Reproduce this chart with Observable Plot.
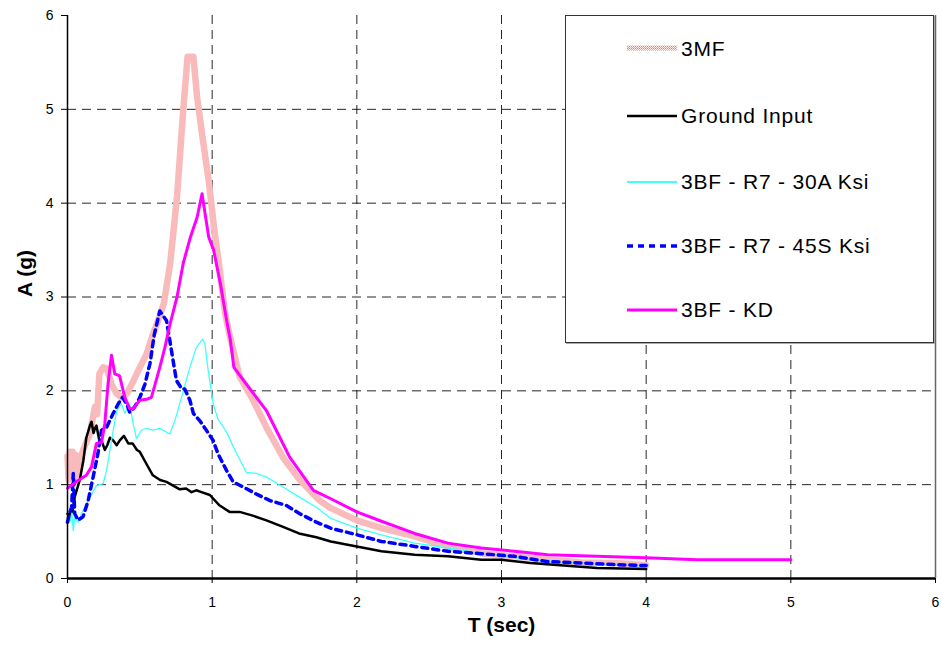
<!DOCTYPE html>
<html><head><meta charset="utf-8">
<script src="https://cdn.jsdelivr.net/npm/d3@7"></script>
<script src="https://cdn.jsdelivr.net/npm/@observablehq/plot@0.6"></script>
<style>
body{margin:0;background:#fff;font-family:"Liberation Sans",Arial,sans-serif;}
#wrap{position:relative;width:942px;height:645px;}
#legend{position:absolute;left:565px;top:15px;width:369px;height:328px;box-sizing:border-box;border:1.5px solid #333;background:#fff;box-shadow:1px 1px 0 #aaa;}
.item{position:absolute;left:61px;height:30px;display:flex;align-items:center;font-size:21px;letter-spacing:0.8px;color:#000;white-space:nowrap;}
.item svg{margin-right:4px;}
</style>
</head><body>
<div id="wrap"><div id="legend"></div></div>
<script>
// ---- data ----
const seriesNames = ["3MF", "Ground Input", "3BF - R7 - 30A Ksi", "3BF - R7 - 45S Ksi", "3BF - KD"];
const xTicks = [0, 1, 2, 3, 4, 5, 6];
const yTicks = [0, 1, 2, 3, 4, 5, 6];
const gridVals = [1, 2, 3, 4, 5];

const mf3T = [0,0.008,0.016,0.025,0.035,0.045,0.055,0.065,0.085,0.108,0.154,0.19,0.205,0.22,0.246,0.27,0.29,0.304,0.34,0.373,0.41,0.454,0.5,0.546,0.59,0.62,0.666,0.71,0.757,0.8,0.83,0.87,0.896,0.93,0.976,1.01,1.046,1.09,1.12,1.19,1.283,1.375,1.49,1.606,1.744,1.82,2.0,2.17,2.4,2.63,2.86,3.09,3.32,3.55,3.78,4.0];
const mf3A = [1.3,1.05,1.35,1.08,1.35,1.05,1.32,1.1,1.25,1.37,1.54,1.83,1.75,2.18,2.25,2.24,2.15,2.07,1.97,1.93,1.97,2.1,2.25,2.39,2.6,2.72,2.93,3.36,4.07,4.99,5.56,5.56,5.13,4.74,4.24,3.78,3.36,2.82,2.6,2.15,1.9,1.61,1.29,1.05,0.83,0.75,0.62,0.536,0.45,0.34,0.27,0.236,0.2,0.17,0.166,0.14];

const groundT = [0,0.02,0.035,0.05,0.085,0.11,0.13,0.155,0.166,0.18,0.19,0.2,0.22,0.24,0.258,0.275,0.293,0.316,0.34,0.36,0.39,0.42,0.45,0.48,0.5,0.546,0.59,0.64,0.684,0.73,0.776,0.82,0.857,0.89,0.926,0.984,1.05,1.12,1.19,1.28,1.375,1.49,1.6,1.72,1.82,2.0,2.17,2.4,2.63,2.86,3.0,3.2,3.43,3.66,4.0];
const groundA = [0.69,0.68,0.72,0.87,1.05,1.26,1.5,1.63,1.67,1.55,1.6,1.63,1.47,1.45,1.37,1.42,1.5,1.47,1.42,1.47,1.52,1.44,1.44,1.37,1.35,1.22,1.1,1.05,1.03,0.99,0.95,0.96,0.92,0.94,0.92,0.89,0.78,0.71,0.71,0.67,0.62,0.55,0.48,0.44,0.395,0.34,0.29,0.254,0.236,0.2,0.2,0.166,0.138,0.113,0.1];

const r30T = [0,0.016,0.03,0.04,0.05,0.074,0.097,0.143,0.2,0.246,0.27,0.304,0.34,0.373,0.396,0.43,0.454,0.477,0.51,0.546,0.59,0.638,0.707,0.742,0.788,0.846,0.89,0.933,0.95,0.972,1.007,1.04,1.1,1.157,1.237,1.306,1.375,1.49,1.6,1.72,1.82,2.0,2.17,2.4,2.63,2.86,3.0,3.2,3.5,3.8,4.0];
const r30A = [0.66,0.6,0.7,0.51,0.65,0.6,0.69,0.83,0.99,1.01,1.15,1.47,1.79,1.86,1.76,1.86,1.65,1.49,1.58,1.6,1.58,1.6,1.54,1.68,1.93,2.25,2.46,2.55,2.5,2.22,1.86,1.7,1.56,1.37,1.13,1.12,1.08,0.975,0.87,0.76,0.64,0.536,0.466,0.377,0.325,0.27,0.243,0.2,0.17,0.145,0.13];

const r45T = [0,0.015,0.028,0.04,0.05,0.074,0.108,0.143,0.177,0.21,0.235,0.27,0.316,0.35,0.38,0.41,0.43,0.465,0.5,0.535,0.57,0.6,0.638,0.684,0.707,0.73,0.753,0.79,0.81,0.846,0.87,0.915,0.96,1.007,1.04,1.1,1.145,1.214,1.306,1.4,1.51,1.606,1.72,1.82,2.0,2.17,2.4,2.63,2.86,3.09,3.32,3.55,3.78,4.0];
const r45A = [0.6,0.7,0.76,1.12,0.69,0.62,0.66,0.83,1.08,1.33,1.58,1.61,1.76,1.86,1.93,1.86,1.77,1.83,1.93,2.07,2.29,2.6,2.85,2.75,2.54,2.32,2.11,2.02,2.02,1.9,1.76,1.68,1.58,1.47,1.33,1.15,1.03,0.975,0.9,0.83,0.78,0.69,0.6,0.536,0.466,0.395,0.342,0.29,0.265,0.236,0.18,0.166,0.148,0.138];

const kdT = [0,0.06,0.13,0.166,0.2,0.235,0.258,0.28,0.304,0.327,0.36,0.396,0.43,0.454,0.5,0.546,0.58,0.6,0.638,0.673,0.71,0.757,0.8,0.85,0.896,0.93,0.976,1.01,1.057,1.10,1.125,1.15,1.237,1.375,1.537,1.70,1.82,2.0,2.17,2.4,2.63,2.86,3.09,3.32,3.66,4.0,4.35,5.0];
const kdA = [0.96,1.03,1.1,1.19,1.44,1.45,1.65,2.07,2.38,2.18,2.16,1.93,1.81,1.81,1.9,1.91,1.93,2.04,2.25,2.46,2.72,3.0,3.36,3.64,3.85,4.1,3.64,3.5,3.14,2.75,2.55,2.25,2.07,1.79,1.29,0.94,0.85,0.71,0.61,0.48,0.377,0.325,0.29,0.254,0.236,0.22,0.2,0.2];

// ---- build ----
const toRows = (T, A) => T.map((t, i) => ({T: t, A: A[i]}));
const styles = [
  {stroke: "url(#mf3pat)", strokeWidth: 6.5, dash: null},
  {stroke: "#000000", strokeWidth: 2.5, dash: null},
  {stroke: "#40ffff", strokeWidth: 1.3, dash: null},
  {stroke: "#0000ff", strokeWidth: 3.5, dash: "6,5"},
  {stroke: "#ff00ff", strokeWidth: 3, dash: null}
];
const seriesData = [toRows(mf3T, mf3A), toRows(groundT, groundA), toRows(r30T, r30A), toRows(r45T, r45A), toRows(kdT, kdA)];

const lineMarks = seriesData.map((d, i) => Plot.line(d, {
  x: "T", y: "A", stroke: styles[i].stroke, strokeWidth: styles[i].strokeWidth,
  strokeDasharray: styles[i].dash || undefined, strokeLinejoin: "round"
}));

const patternDef = (id) => `<pattern id="${id}" patternUnits="userSpaceOnUse" width="2" height="2">` +
  '<rect width="2" height="2" fill="#fde8e8"/><rect width="1" height="1" fill="#f07878"/><rect x="1" y="1" width="1" height="1" fill="#f5a0a0"/></pattern>';

const svg = Plot.plot({
  width: 942, height: 645,
  marginTop: 15, marginRight: 7, marginBottom: 67, marginLeft: 67,
  style: {fontFamily: "'Liberation Sans', Arial, sans-serif", fontSize: "14px", color: "#000", background: "#fff", overflow: "visible"},
  x: {domain: [0, 6], ticks: xTicks, tickSize: 5, tickPadding: 14, label: null, tickFormat: d => String(d)},
  y: {domain: [0, 6], ticks: yTicks, tickSize: 6, tickPadding: 8, label: null, tickFormat: d => String(d)},
  marks: [
    Plot.gridX(gridVals, {stroke: "#000", strokeOpacity: 0.85, strokeDasharray: "9,6"}),
    Plot.gridY(gridVals, {stroke: "#000", strokeOpacity: 0.85, strokeDasharray: "9,6"}),
    Plot.ruleX([6], {stroke: "#666", strokeWidth: 1.5}),
    ...lineMarks,
    Plot.ruleX([0], {stroke: "#000", strokeWidth: 1.5}),
    Plot.ruleY([0], {stroke: "#000", strokeWidth: 2.5}),
    Plot.text(["T (sec)"], {frameAnchor: "bottom", dy: 53, fontWeight: "bold", fontSize: 21}),
    Plot.text(["A (g)"], {frameAnchor: "left", dx: -42, rotate: -90, fontWeight: "bold", fontSize: 21})
  ]
});
svg.insertAdjacentHTML("afterbegin", "<defs>" + patternDef("mf3pat") + "</defs>");
const wrap = document.getElementById("wrap");
wrap.insertBefore(svg, wrap.firstChild);

// ---- legend ----
const legend = document.getElementById("legend");
const rowTops = [33, 100, 166, 230, 294];
seriesNames.forEach((name, i) => {
  const div = document.createElement("div");
  div.className = "item";
  div.style.top = (rowTops[i] - 15) + "px";
  const st = styles[i];
  let sw = '<svg width="50" height="10">';
  if (i === 0) {
    sw += "<defs>" + patternDef("mf3patL") + "</defs>";
    sw += '<line x1="0" x2="50" y1="4" y2="4" stroke="url(#mf3patL)" stroke-width="5"/>';
  } else {
    sw += `<line x1="0" x2="50" y1="5" y2="5" stroke="${st.stroke}" stroke-width="${Math.max(st.strokeWidth, 2)}"${st.dash ? ` stroke-dasharray="${st.dash}"` : ""}/>`;
  }
  sw += '</svg>';
  div.innerHTML = sw + `<span>${name}</span>`;
  legend.appendChild(div);
});
</script>
</body></html>
